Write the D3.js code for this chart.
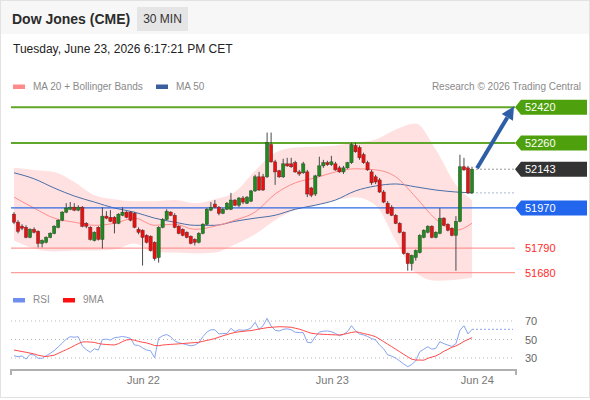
<html>
<head>
<meta charset="utf-8">
<script src="https://cdn.jsdelivr.net/npm/d3@7"></script>
<style>
  body { margin: 0; background: #fff; }
  svg { font-family: "Liberation Sans", Arial, sans-serif; display: block; }
  .lbl { font-size: 11px; }
  .leg { font-size: 10px; fill: #8a8a8a; }
</style>
</head>
<body>
<svg width="590" height="400"></svg>
<script>
// Candles, 30 min
var open = [51942,51906,51888,51883,51838,51874,51865,51811,51816,51838, 51856,51883,51915,51951,51964,51973,51960,51973,51901,51883,
            51824,51883,51829,51933,51928,51928,51901,51937,51951,51951, 51946,51874,51870,51847,51843,51816,51748,51883,51919,51951,
            51937,51888,51874,51861,51843,51829,51816,51856,51897,51960, 51987,51973,51946,51964,51964,52005,51982,52014,51991,52000,
            52046,52109,52109,52109,52253,52176,52136,52109,52167,52167, 52172,52131,52127,52131,52059,52032,52113,52158,52172,52163,
            52167,52149,52131,52149,52172,52249,52240,52208,52172,52131, 52109,52095,52041,51991,51973,51937,51901,51861,51766,51721,
            51748,51770,51838,51861,51888,51838,51856,51924,51897,51879, 51847,51910,52154,52149,52037];
var close = [51906,51865,51879,51838,51874,51861,51811,51824,51838,51856, 51888,51915,51951,51969,51973,51960,51973,51888,51888,51829,
             51861,51829,51933,51924,51910,51901,51942,51951,51928,51915, 51883,51861,51838,51816,51779,51743,51883,51919,51955,51937,
             51883,51856,51847,51838,51811,51816,51856,51897,51964,51973, 51973,51946,51964,51991,52005,51982,52014,51996,52018,52046,
             52109,52050,52050,52262,52176,52131,52109,52167,52158,52154, 52131,52122,52167,52032,52027,52113,52158,52172,52163,52176,
             52140,52131,52149,52172,52253,52221,52194,52172,52140,52082, 52086,52041,51996,51946,51937,51901,51861,51766,51721,51757,
             51779,51847,51870,51888,51838,51861,51924,51892,51870,51847, 51910,52154,52140,52037,52143];
var high = [51951,51915,51897,51892,51879,51883,51870,51829,51843,51861, 51892,51919,51955,51991,51996,51991,51982,51978,51906,51888,
            51865,51888,51973,51955,51960,51933,51946,51973,51955,51955, 51951,51883,51874,51852,51847,51820,51888,51924,51964,51955,
            51946,51892,51879,51865,51847,51834,51861,51901,51969,51996, 52005,51978,51969,51996,52037,52009,52018,52023,52023,52050,
            52118,52131,52122,52307,52307,52185,52140,52190,52194,52194, 52181,52140,52176,52140,52064,52118,52199,52185,52181,52203,
            52176,52158,52158,52176,52262,52262,52249,52217,52181,52140, 52118,52104,52050,52000,51982,51942,51906,51865,51770,51761,
            51784,51852,51874,51892,51892,51865,51969,51928,51901,51883, 51933,52208,52194,52158,52154];
var low = [51897,51856,51870,51834,51834,51856,51793,51793,51811,51834, 51852,51879,51910,51946,51960,51955,51955,51883,51879,51824,
           51820,51824,51788,51919,51906,51856,51897,51933,51924,51910, 51879,51852,51712,51811,51775,51734,51725,51879,51915,51933,
           51879,51852,51843,51834,51807,51802,51811,51852,51892,51955, 51969,51937,51942,51960,51960,51978,51973,51987,51987,51996,
           52041,52046,52046,52104,52172,52073,52104,52104,52154,52149, 52127,52113,52122,52018,52018,52023,52109,52149,52158,52158,
           52136,52127,52122,52145,52167,52217,52185,52167,52136,52073, 52077,52037,51991,51942,51933,51897,51856,51761,51689,51689,
           51734,51766,51834,51856,51834,51834,51852,51888,51865,51843, 51689,51906,52136,52032,52032];

// Moving averages and Bollinger bands, sampled every 5 candles
var maIdx   = [0,5,10,15,20,25,30,35,40,45,50,55,60,65,70,75,80,85,90,95,100,105,110,114];
var ma20    = [52018,51969,51924,51906,51892,51901,51924,51892,51897,51874,51888,51915,51951,52032,52082,52104,52131,52145,52140,52109,52018,51919,51870,51901];
var ma50    = [52127,52100,52059,52023,51996,51969,51951,51924,51906,51892,51892,51910,51924,51937,51964,51982,52005,52046,52068,52077,52064,52050,52041,52037];
var bbUpper = [52149,52140,52131,52086,52027,52009,52000,52000,52005,51991,52009,52041,52136,52217,52240,52244,52249,52262,52276,52321,52348,52230,52073,52005];
var bbLower = [51824,51788,51775,51779,51779,51784,51811,51770,51770,51766,51770,51806,51852,51915,51960,51978,52005,52018,51982,51824,51680,51644,51648,51657];

// Levels
var resistances = [52420, 52260];
var pivot = 51970;
var supports = [51790, 51680];
var lastPrice = 52143;

// RSI pane
var rsi = [32.5,31.4,32.2,28.9,34,33.2,29.7,29.7,32.5,35, 38,42,46,50.5,53,52.5,53,43,39,36.2,
           40,38.5,50,50.3,49.5,52,52.5,53.3,52.5,51.3, 44,43.6,41,38.6,37.8,30.3,51.3,54.1,55.4,53,
           48.5,46.5,45.5,44.3,43.2,44,46.5,53,58,60.5, 60.5,56,56.5,56.5,62,58.5,60.5,60,60.5,62.5,
           68.6,61,64.9,72.9,64.5,60,59.2,61,61.5,60.5, 57.8,57.6,57.4,47,46.5,53,58,59,59.2,58.5,
           56.5,54.1,55.5,58.5,64.9,59.5,56,54.9,53.3,51, 49.5,44,40,33.5,32,30,26.8,23.5,20.6,23,
           27,36.8,39.5,42.2,39.5,40.5,47.6,45.5,44,42.5, 45.5,60,64.9,56,61];
var rsiMa = [38.6,37.8,37,36.2,35.3,34.4,33,32.2,31.5,32.3, 33,35,37,39,41,43.3,45.5,47.3,47.5,47.2,
             46.9,45.7,45,44.6,44.3,44.1,45.5,47.7,49.5,50, 49.2,48,47,46.3,45,43.5,43.3,44,44.4,44.7,
             45,45.3,45.6,46,46.3,46.7,47,48,49,50, 51,52.5,54,55.3,56.6,57.6,58.3,58.8,59.3,59.6,
             60.5,61.3,62,62.8,63.2,63.5,63.8,63.7,63.5,63.2, 62.2,61.2,59.8,58.2,56.8,56.2,55.8,55.6,55.4,55.2,
             55,54.9,55.6,56.6,57.6,58.3,57.6,56.5,55.5,54.5, 53,50.4,47.7,45,42.3,39.5,36.8,34,31.3,28.7,
             27.8,27.8,27.6,29.7,31,32.2,34.5,37.3,39.3,41.6, 43,45.3,48,50,52];
var rsiLevels = [30, 50, 70];

// Time axis labels (position in candle units)
var dayLabels = ["Jun 22", "Jun 23", "Jun 24"];
var dayIdx = [32.1, 79.1, 115.2];

var svg = d3.select("svg");
var W = 590, H = 400;
var left = 11, right = 515;

var x = d3.scaleLinear().domain([0, open.length - 1]).range([14, 472]);
var y = d3.scaleLinear().domain([51680, 52420]).range([272.7, 107.3]);
var yr = d3.scaleLinear().domain([30, 70]).range([358, 321]);

// Frame and header
svg.append("rect").attr("x", 0.5).attr("y", 0.5).attr("width", W - 1).attr("height", H - 3)
    .attr("fill", "#fff").attr("stroke", "#e2e2e2");
svg.append("rect").attr("x", 1).attr("y", 1).attr("width", W - 2).attr("height", 33).attr("fill", "#f7f7f7");
svg.append("text").attr("x", 12).attr("y", 24).attr("font-size", 14).attr("font-weight", "bold")
    .attr("fill", "#2b2b2b").text("Dow Jones (CME)");
svg.append("rect").attr("x", 137).attr("y", 7).attr("width", 51).attr("height", 24).attr("fill", "#e5e5e5");
svg.append("text").attr("x", 162.5).attr("y", 23).attr("font-size", 12).attr("text-anchor", "middle")
    .attr("fill", "#333").text("30 MIN");
svg.append("text").attr("x", 13).attr("y", 53).attr("font-size", 12).attr("fill", "#222")
    .text("Tuesday, June 23, 2026 6:17:21 PM CET");

// Legend
function legend(g, items, yy) {
    items.forEach(function(it) {
        g.append("rect").attr("x", it.x).attr("y", yy - 5).attr("width", 12).attr("height", 4.5).attr("fill", it.c);
        g.append("text").attr("class", "leg").attr("x", it.x + 20).attr("y", yy).text(it.t);
    });
}
legend(svg, [{x: 13, c: "#ff8a8a", t: "MA 20 + Bollinger Bands"}, {x: 156, c: "#3a5f9e", t: "MA 50"}], 89.5);
svg.append("text").attr("class", "leg").attr("x", 581).attr("y", 89.5).attr("text-anchor", "end")
    .attr("fill", "#9a9a9a").text("Research \u00a9 2026 Trading Central");

// Bollinger band and averages
var pts = maIdx.map(function(d, i) { return i; });
svg.append("path").datum(pts)
    .attr("d", d3.area().x(function(i) { return x(maIdx[i]); })
        .y0(function(i) { return y(bbLower[i]); }).y1(function(i) { return y(bbUpper[i]); })
        .curve(d3.curveMonotoneX))
    .attr("fill", "#ffe1e1");
function maLine(vals, color) {
    svg.append("path").datum(pts)
        .attr("d", d3.line().x(function(i) { return x(maIdx[i]); }).y(function(i) { return y(vals[i]); })
            .curve(d3.curveMonotoneX))
        .attr("fill", "none").attr("stroke", color).attr("stroke-width", 1);
}
maLine(ma50, "#4a6ea8");
maLine(ma20, "#ff8c8c");

// Level lines
resistances.forEach(function(v) {
    svg.append("line").attr("x1", left).attr("x2", right).attr("y1", y(v)).attr("y2", y(v))
        .attr("stroke", "#5fa62a").attr("stroke-width", 2);
});
svg.append("line").attr("x1", left).attr("x2", right).attr("y1", y(pivot)).attr("y2", y(pivot))
    .attr("stroke", "#2f6be3").attr("stroke-width", 1.3);
supports.forEach(function(v) {
    svg.append("line").attr("x1", left).attr("x2", right).attr("y1", y(v)).attr("y2", y(v))
        .attr("stroke", "#ff8585").attr("stroke-width", 1);
});

// Candles
var idx = d3.range(open.length);
var cg = svg.append("g");
cg.selectAll("line.wick").data(idx).enter().append("line")
    .attr("x1", function(i) { return x(i); }).attr("x2", function(i) { return x(i); })
    .attr("y1", function(i) { return y(high[i]); }).attr("y2", function(i) { return y(low[i]); })
    .attr("stroke", "#4a4a4a").attr("stroke-width", 1);
cg.selectAll("rect.body").data(idx).enter().append("rect")
    .attr("x", function(i) { return x(i) - 1.6; })
    .attr("width", 3.2)
    .attr("y", function(i) { return y(Math.max(open[i], close[i])); })
    .attr("height", function(i) { return Math.max(1, Math.abs(y(open[i]) - y(close[i]))); })
    .attr("fill", function(i) { return close[i] >= open[i] ? "#1f8a1f" : "#e81010"; })
    .attr("stroke", function(i) { return close[i] >= open[i] ? "#2c4f2c" : "#6b2a2a"; })
    .attr("stroke-width", 0.5);

// Projections from the last candle
var xEnd = x(open.length - 1) + 4;
svg.append("line").attr("x1", xEnd).attr("x2", right).attr("y1", y(lastPrice)).attr("y2", y(lastPrice))
    .attr("stroke", "#999").attr("stroke-dasharray", "2,2");
svg.append("line").attr("x1", xEnd).attr("x2", right)
    .attr("y1", y(ma50[ma50.length - 1])).attr("y2", y(ma50[ma50.length - 1]))
    .attr("stroke", "#a9b9d8").attr("stroke-dasharray", "2,2");

// Arrow towards the first resistance
var ax0 = xEnd + 1, ay0 = y(lastPrice) - 1, ax1 = 514, ay1 = y(resistances[0]) - 1;
var ang = Math.atan2(ay1 - ay0, ax1 - ax0);
var hl = 13, hw = 6.5;
var bx = ax1 - hl * Math.cos(ang), by = ay1 - hl * Math.sin(ang);
svg.append("line").attr("x1", ax0).attr("y1", ay0).attr("x2", bx).attr("y2", by)
    .attr("stroke", "#2e5ea6").attr("stroke-width", 4);
svg.append("path").attr("fill", "#2e5ea6")
    .attr("d", "M" + ax1 + "," + ay1 +
        "L" + (bx + hw * Math.sin(ang)) + "," + (by - hw * Math.cos(ang)) +
        "L" + (bx - hw * Math.sin(ang)) + "," + (by + hw * Math.cos(ang)) + "Z");

// Right side labels
function tag(v, color) {
    var yc = y(v);
    svg.append("path").attr("fill", color)
        .attr("d", "M" + right + "," + yc + "L" + (right + 6) + "," + (yc - 7.5) + "L587," + (yc - 7.5) +
            "L587," + (yc + 7.5) + "L" + (right + 6) + "," + (yc + 7.5) + "Z");
    svg.append("text").attr("class", "lbl").attr("x", 525).attr("y", yc + 4).attr("fill", "#fff").text(v);
}
resistances.forEach(function(v) { tag(v, "#4ea10c"); });
tag(lastPrice, "#333333");
tag(pivot, "#2266ee");
supports.forEach(function(v) {
    svg.append("text").attr("class", "lbl").attr("x", 525).attr("y", y(v) + 4).attr("fill", "#ff2a2a").text(v);
});

// RSI pane
legend(svg, [{x: 13, c: "#6f8ff0", t: "RSI"}, {x: 63, c: "#ff1010", t: "9MA"}], 303);
rsiLevels.forEach(function(v) {
    svg.append("line").attr("x1", left).attr("x2", right).attr("y1", yr(v)).attr("y2", yr(v))
        .attr("stroke", "#b8b8b8").attr("stroke-dasharray", "1,3");
});
svg.append("g").attr("transform", "translate(519,0)")
    .call(d3.axisRight(yr).tickValues(rsiLevels).tickSize(0).tickPadding(6))
    .call(function(g) { g.select(".domain").remove(); })
    .selectAll("text").attr("font-size", 11).attr("fill", "#666")
    .attr("font-family", "Liberation Sans, Arial, sans-serif");

svg.append("path").datum(idx)
    .attr("d", d3.line().x(function(i) { return x(i); }).y(function(i) { return yr(rsi[i]); }))
    .attr("fill", "none").attr("stroke", "#88a4ee").attr("stroke-width", 1);
svg.append("line").attr("x1", x(rsi.length - 1)).attr("x2", right - 2)
    .attr("y1", yr(rsi[rsi.length - 1])).attr("y2", yr(rsi[rsi.length - 1]))
    .attr("stroke", "#88a4ee").attr("stroke-dasharray", "2,2");
svg.append("path").datum(idx)
    .attr("d", d3.line().x(function(i) { return x(i); }).y(function(i) { return yr(rsiMa[i]); }))
    .attr("fill", "none").attr("stroke", "#ff4a4a").attr("stroke-width", 1);

// Time axis
svg.append("path").attr("d", "M" + left + ",375V370H" + (right + 1) + "V375")
    .attr("fill", "none").attr("stroke", "#b0b0b0").attr("stroke-width", 2);
svg.append("g").attr("transform", "translate(0,371)")
    .call(d3.axisBottom(x).tickValues(dayIdx).tickFormat(function(d, i) { return dayLabels[i]; })
        .tickSize(0).tickPadding(5))
    .call(function(g) { g.select(".domain").remove(); })
    .selectAll("text").attr("font-size", 11).attr("fill", "#777")
    .attr("font-family", "Liberation Sans, Arial, sans-serif");
</script>
</body>
</html>
